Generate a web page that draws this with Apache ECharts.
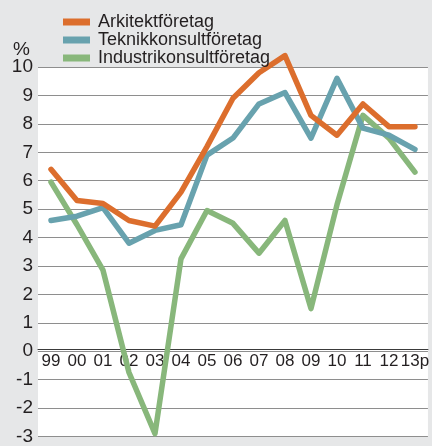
<!DOCTYPE html>
<html><head><meta charset="utf-8">
<script src="https://cdn.jsdelivr.net/npm/echarts@6/dist/echarts.min.js"></script>
<style>html,body{margin:0;padding:0;background:#e6e7e8;}#c{width:432px;height:446px;}</style>
</head><body><div id="c"></div>
<script>
const categories = ['99','00','01','02','03','04','05','06','07','08','09','10','11','12','13p'];
const arkitekt = [6.4, 5.3, 5.2, 4.6, 4.4, 5.6, 7.2, 8.9, 9.8, 10.4, 8.3, 7.6, 8.7, 7.9, 7.9];
const teknik = [4.6, 4.75, 5.05, 3.8, 4.25, 4.45, 6.9, 7.5, 8.7, 9.1, 7.5, 9.6, 7.85, 7.6, 7.1];
const industri = [5.95, 4.45, 2.85, -0.75, -2.9, 3.25, 4.95, 4.5, 3.45, 4.6, 1.5, 5.15, 8.3, 7.5, 6.3];
const seriesNames = ['Arkitektföretag', 'Teknikkonsultföretag', 'Industrikonsultföretag'];
const colors = ['#dc6e2d', '#68a2ae', '#88b77b'];
const yMin = -3, yMax = 10;

const gridTop = 67, gridBottom = 3, H = 446;
const plotH = H - gridTop - gridBottom;
const zeroOffset = -(0 - yMin) / (yMax - yMin) * plotH;

const chart = echarts.init(document.getElementById('c'), null, {renderer: 'canvas'});
const mk = (name, data, color) => ({
  name, type: 'line', data, symbol: 'none', smooth: false, clip: false,
  lineStyle: {width: 5.5, color: color, join: 'round', cap: 'round'},
  itemStyle: {color: color}
});
chart.setOption({
  animation: false,
  backgroundColor: '#e6e7e8',
  textStyle: {fontFamily: 'Liberation Sans, Arial, sans-serif'},
  grid: {left: 38, right: 0, top: gridTop, bottom: gridBottom, show: true, backgroundColor: '#ffffff', borderWidth: 0},
  legend: {
    orient: 'vertical', left: 63, top: 13, padding: 0, itemGap: 0,
    itemWidth: 27, itemHeight: 7, icon: 'rect',
    textStyle: {fontSize: 18, lineHeight: 18, color: '#231f20', padding: [0, 0, 0, 3]},
    data: seriesNames
  },
  graphic: [{type: 'text', left: 13, top: 40, style: {text: '%', fontSize: 19, fill: '#231f20', fontFamily: 'Liberation Sans, Arial, sans-serif'}}],
  xAxis: {
    type: 'category', data: categories, boundaryGap: true, position: 'bottom',
    offset: zeroOffset,
    axisLine: {onZero: false, lineStyle: {color: '#3a3a3a', width: 1}},
    axisTick: {show: false},
    axisLabel: {fontSize: 17, color: '#231f20', margin: 3, interval: 0}
  },
  yAxis: {
    type: 'value', min: yMin, max: yMax, interval: 1,
    axisLine: {show: false}, axisTick: {show: false},
    axisLabel: {fontSize: 19, color: '#231f20', margin: 5},
    splitLine: {lineStyle: {color: '#8e8e8e', width: 1}}
  },
  series: [
    mk(seriesNames[0], arkitekt, colors[0]),
    mk(seriesNames[1], teknik, colors[1]),
    mk(seriesNames[2], industri, colors[2])
  ].reverse()
});
</script></body></html>
